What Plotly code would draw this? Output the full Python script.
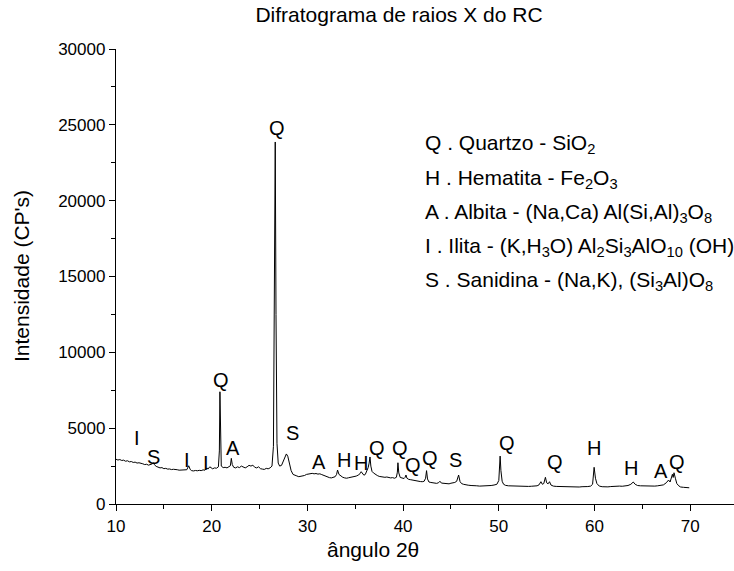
import plotly.graph_objects as go

# Diffractogram: 2-theta angle (degrees) and intensity (counts)
two_theta = [
    10.0, 10.2, 10.4, 10.6, 10.8, 11.0, 11.2, 11.4, 11.6, 11.8, 12.0, 12.2, 12.4, 12.6, 12.8,
    13.0, 13.2, 13.4, 13.6, 13.8, 13.9, 14.0, 14.2, 14.4, 14.6, 14.8, 15.0, 15.2, 15.4, 15.6,
    15.8, 16.0, 16.2, 16.4, 16.6, 16.8, 17.0, 17.2, 17.4, 17.6, 17.75, 17.9, 18.1, 18.3, 18.5,
    18.7, 18.9, 19.1, 19.3, 19.5, 19.6, 19.8, 19.95, 20.1, 20.3, 20.5, 20.7, 20.8, 20.86, 20.92,
    21.0, 21.2, 21.4, 21.6, 21.8, 21.95, 22.05, 22.15, 22.3, 22.5, 22.7, 22.9, 23.1, 23.3, 23.5,
    23.7, 23.9, 24.1, 24.3, 24.5, 24.7, 24.9, 25.1, 25.3, 25.5, 25.7, 25.9, 26.1, 26.3, 26.45,
    26.55, 26.64, 26.72, 26.82, 26.95, 27.1, 27.3, 27.5, 27.65, 27.8, 27.95, 28.1, 28.3, 28.5,
    28.7, 28.9, 29.1, 29.3, 29.5, 29.7, 29.9, 30.1, 30.3, 30.5, 30.7, 30.9, 31.1, 31.3, 31.5,
    31.7, 31.9, 32.1, 32.3, 32.5, 32.7, 32.9, 33.05, 33.15, 33.3, 33.5, 33.7, 33.9, 34.1, 34.3,
    34.5, 34.7, 34.9, 35.1, 35.3, 35.5, 35.62, 35.75, 35.9, 36.05, 36.2, 36.35, 36.45, 36.54,
    36.63, 36.75, 36.9, 37.1, 37.3, 37.5, 37.7, 37.9, 38.1, 38.3, 38.5, 38.7, 38.9, 39.1, 39.3,
    39.4, 39.46, 39.55, 39.7, 39.9, 40.1, 40.2, 40.3, 40.4, 40.6, 40.8, 41.0, 41.2, 41.4, 41.6,
    41.8, 42.0, 42.2, 42.35, 42.45, 42.55, 42.7, 42.9, 43.1, 43.3, 43.5, 43.7, 43.85, 44.0,
    44.2, 44.4, 44.6, 44.8, 45.0, 45.2, 45.4, 45.6, 45.8, 45.95, 46.1, 46.3, 46.5, 46.8, 47.1,
    47.4, 47.7, 48.0, 48.3, 48.6, 48.9, 49.2, 49.5, 49.8, 50.0, 50.08, 50.14, 50.22, 50.35,
    50.5, 50.7, 51.0, 51.3, 51.6, 51.9, 52.2, 52.5, 52.8, 53.1, 53.4, 53.7, 54.0, 54.2, 54.4,
    54.55, 54.7, 54.87, 55.0, 55.15, 55.3, 55.45, 55.7, 56.0, 56.3, 56.6, 56.9, 57.2, 57.5,
    57.8, 58.1, 58.4, 58.7, 59.0, 59.3, 59.6, 59.8, 59.96, 60.1, 60.25, 60.5, 60.8, 61.1, 61.4,
    61.7, 62.0, 62.3, 62.6, 62.9, 63.2, 63.5, 63.8, 64.05, 64.25, 64.5, 64.8, 65.1, 65.4, 65.7,
    66.0, 66.3, 66.6, 66.9, 67.2, 67.5, 67.74, 67.9, 68.14, 68.22, 68.31, 68.45, 68.6, 68.8,
    69.0, 69.3, 69.6, 69.9,
]
counts = [
    2950, 2900, 2930, 2870, 2890, 2820, 2850, 2780, 2800, 2740, 2760, 2700, 2720, 2660, 2650,
    2600, 2620, 2560, 2580, 2650, 2720, 2600, 2480, 2420, 2380, 2400, 2330, 2350, 2300, 2310,
    2270, 2290, 2250, 2260, 2230, 2240, 2210, 2230, 2260, 2520, 2280, 2200, 2180, 2210, 2190,
    2220, 2200, 2250, 2230, 2380, 2300, 2450, 2350, 2320, 2380, 2360, 2450, 3500, 7400, 3600,
    2500, 2400, 2420, 2380, 2450, 2520, 3010, 2600, 2420, 2380, 2450, 2400, 2500, 2420, 2380,
    2450, 2550, 2500, 2560, 2420, 2380, 2450, 2330, 2300, 2280, 2350, 2320, 2380, 2500, 3800,
    12000, 23870, 12500, 4000, 2700, 2500, 2550, 2850, 3200, 3300, 3150, 2700, 2200, 1950,
    1880, 1850, 1800, 1820, 1850, 1880, 1950, 1980, 1960, 2020, 1990, 2010, 1970, 1990, 1940,
    1880, 1820, 1780, 1740, 1720, 1760, 1800, 1950, 2240, 1950, 1820, 1760, 1720, 1700, 1730,
    1750, 1780, 1800, 1840, 1900, 2000, 2130, 1980, 1900, 1950, 2150, 2400, 2700, 3100,
    2500, 2150, 2050, 1950, 1880, 1820, 1800, 1770, 1760, 1780, 1740, 1720, 1740, 1700, 1760,
    2100, 2720, 2050, 1750, 1700, 1680, 1750, 1910, 1700, 1620, 1600, 1570, 1580, 1520, 1500,
    1480, 1470, 1500, 1700, 2200, 1650, 1450, 1420, 1400, 1380, 1360, 1400, 1500, 1380,
    1360, 1340, 1360, 1330, 1370, 1390, 1420, 1500, 1910, 1480, 1350, 1300, 1260, 1240, 1220,
    1230, 1200, 1180, 1190, 1170, 1200, 1220, 1250, 1300, 1550, 2300, 3160, 2200, 1500,
    1300, 1230, 1200, 1190, 1170, 1180, 1160, 1170, 1150, 1160, 1170, 1180, 1200, 1260, 1470,
    1300, 1350, 1760, 1400, 1330, 1470, 1250, 1180, 1160, 1150, 1140, 1150, 1130, 1140,
    1120, 1130, 1120, 1140, 1130, 1150, 1180, 1300, 2420, 1700, 1350, 1180, 1140, 1120, 1130,
    1150, 1170, 1160, 1180, 1170, 1200, 1220, 1300, 1450, 1300, 1220, 1200, 1190, 1210, 1180,
    1170, 1180, 1200, 1220, 1260, 1400, 1580, 1450, 1960, 1750, 2060, 1700, 1350, 1200,
    1120, 1100, 1080, 1070,
]

# Phase identification tags placed above the peaks
phase_tags = ["I", "S", "I", "I", "Q", "A", "Q", "S", "A", "H", "H",
              "Q", "Q", "Q", "Q", "S", "Q", "Q", "H", "H", "A", "Q"]
tag_x = [12.16, 13.9, 17.45, 19.4, 20.97, 22.26, 26.82, 28.46, 31.24, 33.86, 35.6,
         37.3, 39.68, 41.07, 42.81, 45.45, 50.89, 55.87, 59.98, 63.81, 66.92, 68.59]
tag_y = [4330, 3120, 2900, 2700, 8150, 3670, 24790, 4660, 2790, 2900, 2720,
         3670, 3670, 2570, 3050, 2900, 4000, 2790, 3670, 2390, 2200, 2790]

# Key of mineral phases
phase_key = [
    "Q . Quartzo - SiO<sub>2</sub>",
    "H . Hematita - Fe<sub>2</sub>O<sub>3</sub>",
    "A . Albita - (Na,Ca) Al(Si,Al)<sub>3</sub>O<sub>8</sub>",
    "I . Ilita - (K,H<sub>3</sub>O) Al<sub>2</sub>Si<sub>3</sub>AlO<sub>10</sub> (OH)<sub>2</sub>",
    "S . Sanidina - (Na,K), (Si<sub>3</sub>Al)O<sub>8</sub>",
]
key_y = [23735, 21430, 19190, 16940, 14700]

FONT = "Liberation Sans, Arial, sans-serif"

fig = go.Figure()
fig.add_trace(go.Scatter(
    x=two_theta, y=counts, mode="lines",
    line=dict(color="black", width=1),
    showlegend=False, hoverinfo="skip",
))

annotations = []
for t, x, y in zip(phase_tags, tag_x, tag_y):
    annotations.append(dict(
        x=x, y=y, xref="x", yref="y", text=t, showarrow=False,
        xanchor="center", yanchor="middle",
        font=dict(family=FONT, size=20, color="black"),
    ))
for line, y in zip(phase_key, key_y):
    annotations.append(dict(
        x=42.08, y=y, xref="x", yref="y", text=line, showarrow=False,
        xanchor="left", yanchor="middle",
        font=dict(family=FONT, size=21, color="black"),
    ))

# Axis titles, positioned in pixels then converted to paper fractions
PL, PR, PT, PB = 116, 0, 49, 67
W, H = 734, 571
pw, ph = W - PL - PR, H - PT - PB


def px_to_paper(px, py):
    return (px - PL) / pw, ((H - py) - PB) / ph


ax_x, ax_y = px_to_paper(373, 549)
annotations.append(dict(
    x=ax_x, y=ax_y, xref="paper", yref="paper", text="ângulo 2θ",
    showarrow=False, xanchor="center", yanchor="middle",
    font=dict(family=FONT, size=21, color="black"),
))
ay_x, ay_y = px_to_paper(21, 276)
annotations.append(dict(
    x=ay_x, y=ay_y, xref="paper", yref="paper", text="Intensidade (CP's)",
    showarrow=False, xanchor="center", yanchor="middle", textangle=-90,
    font=dict(family=FONT, size=21, color="black"),
))

fig.update_layout(
    width=W, height=H,
    margin=dict(l=PL, r=PR, t=PT, b=PB, pad=0),
    paper_bgcolor="white", plot_bgcolor="white",
    font=dict(family=FONT, color="black"),
    title=dict(
        text="Difratograma de raios X do RC",
        x=399 / W, xref="container", xanchor="center",
        y=1 - 15 / H, yref="container", yanchor="middle",
        font=dict(family=FONT, size=21, color="black"),
    ),
    annotations=annotations,
    showlegend=False,
)
fig.update_xaxes(
    range=[10, 10 + pw / 9.57],
    tickvals=[10, 20, 30, 40, 50, 60, 70],
    ticks="outside", ticklen=6, tickwidth=1, tickcolor="black",
    minor=dict(ticks="outside", ticklen=4, dtick=5, tick0=0, tickcolor="black", tickwidth=1),
    showline=True, linecolor="black", linewidth=1.3,
    showgrid=False, zeroline=False,
    tickfont=dict(family=FONT, size=17, color="black"),
)
fig.update_yaxes(
    range=[0, 30000], dtick=5000, tick0=0, tickformat="d",
    ticks="outside", ticklen=6, tickwidth=1, tickcolor="black",
    minor=dict(ticks="outside", ticklen=4, dtick=2500, tick0=0, tickcolor="black", tickwidth=1),
    showline=True, linecolor="black", linewidth=1.3,
    showgrid=False, zeroline=False,
    tickfont=dict(family=FONT, size=17, color="black"),
)

fig.write_html("out.html")
